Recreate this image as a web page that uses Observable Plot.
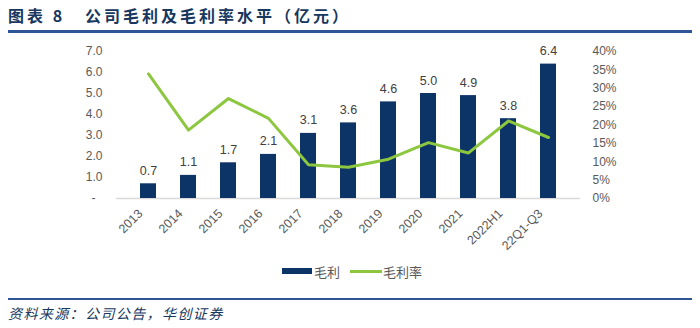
<!DOCTYPE html>
<html><head><meta charset="utf-8">
<script src="https://cdn.jsdelivr.net/npm/d3@7"></script>
<script src="https://cdn.jsdelivr.net/npm/@observablehq/plot@0.6"></script>
<style>
body{margin:0;background:#fff;}
#wrap{position:relative;width:700px;height:328px;overflow:hidden;font-family:"Liberation Sans",Arial,sans-serif;}
#chart{position:absolute;left:0;top:0;}
#title{position:absolute;left:8px;top:4px;font-family:"Noto Sans CJK SC",sans-serif;font-weight:bold;font-size:16px;line-height:22px;letter-spacing:3px;color:#17375E;white-space:pre;}
#tline{position:absolute;left:8px;right:8px;top:30px;height:2.5px;background:#2E5596;}
#legend{position:absolute;top:263px;left:282px;height:16px;display:flex;align-items:center;font-family:"Noto Sans CJK SC",sans-serif;font-size:13px;color:#595959;}
#legend .sw{display:inline-block;width:30px;height:6px;background:#0D3466;margin-right:2px;}
#legend .ln{display:inline-block;width:32px;height:3px;background:#8DC63F;margin-left:10px;margin-right:1px;}
#fline{position:absolute;left:8px;right:8px;top:298px;height:2px;background:#2E5596;}
#source{position:absolute;left:8px;top:304px;font-family:"Noto Sans CJK SC",sans-serif;font-style:italic;font-size:14px;line-height:18px;letter-spacing:1.4px;color:#17375E;}
</style>
</head><body>
<div id="wrap">
<div id="chart"></div>
<div id="title">图表 8   公司毛利及毛利率水平（亿元）</div>
<div id="tline"></div>
<div id="legend"><span class="sw"></span><span>毛利</span><span class="ln"></span><span>毛利率</span></div>
<div id="fline"></div>
<div id="source">资料来源：公司公告，华创证券</div>
</div>
<script>
const categories = ["2013","2014","2015","2016","2017","2018","2019","2020","2021","2022H1","22Q1-Q3"];
const grossProfit = [0.7,1.1,1.7,2.1,3.1,3.6,4.6,5.0,4.9,3.8,6.4];
const grossMargin = [33.9,18.6,27.2,21.8,9.2,8.5,10.7,15.2,12.4,21.1,16.6];
const leftTicks = [1,2,3,4,5,6,7];
const zeroTick = [0];
const rightTicks = [0,5,10,15,20,25,30,35,40];

const toLeft = v => v / 40 * 7;
const data = categories.map((c, i) => ({c, gp: grossProfit[i], gm: toLeft(grossMargin[i])}));

const chart = Plot.plot({
  width: 700, height: 328,
  marginTop: 51, marginBottom: 130, marginLeft: 116, marginRight: 120,
  style: {background: "transparent", fontFamily: "Liberation Sans, Arial, sans-serif", fontSize: "12px", color: "#595959"},
  x: {domain: categories, padding: 0.6, label: null},
  y: {domain: [0, 7], label: null},
  marks: [
    Plot.ruleY([0], {stroke: "#d9d9d9", strokeWidth: 1.5}),
    Plot.barY(data, {x: "c", y: "gp", fill: "#0D3466"}),
    Plot.text(data, {x: "c", y: "gp", text: d => d.gp.toFixed(1), dy: -13, fill: "#404040", fontSize: 12.5}),
    Plot.line(data, {x: "c", y: "gm", stroke: "#8DC63F", strokeWidth: 3}),
    Plot.axisY(leftTicks, {anchor: "left", tickSize: 0, tickPadding: 14, fill: "#595959",
      tickFormat: d => d.toFixed(1), label: null}),
    Plot.axisY(zeroTick, {anchor: "left", tickSize: 0, tickPadding: 21, fill: "#595959",
      tickFormat: () => "-", label: null}),
    Plot.axisY(rightTicks.map(toLeft), {anchor: "right", tickSize: 0, tickPadding: 12, fill: "#595959",
      tickFormat: d => Math.round(d / 7 * 40) + "%", label: null}),
    Plot.axisX({tickSize: 0, tickRotate: -45, tickPadding: 8, dx: -8, dy: 5, fontSize: 12.5, fill: "#595959", label: null})
  ]
});
document.getElementById("chart").appendChild(chart);
</script>
</body></html>
